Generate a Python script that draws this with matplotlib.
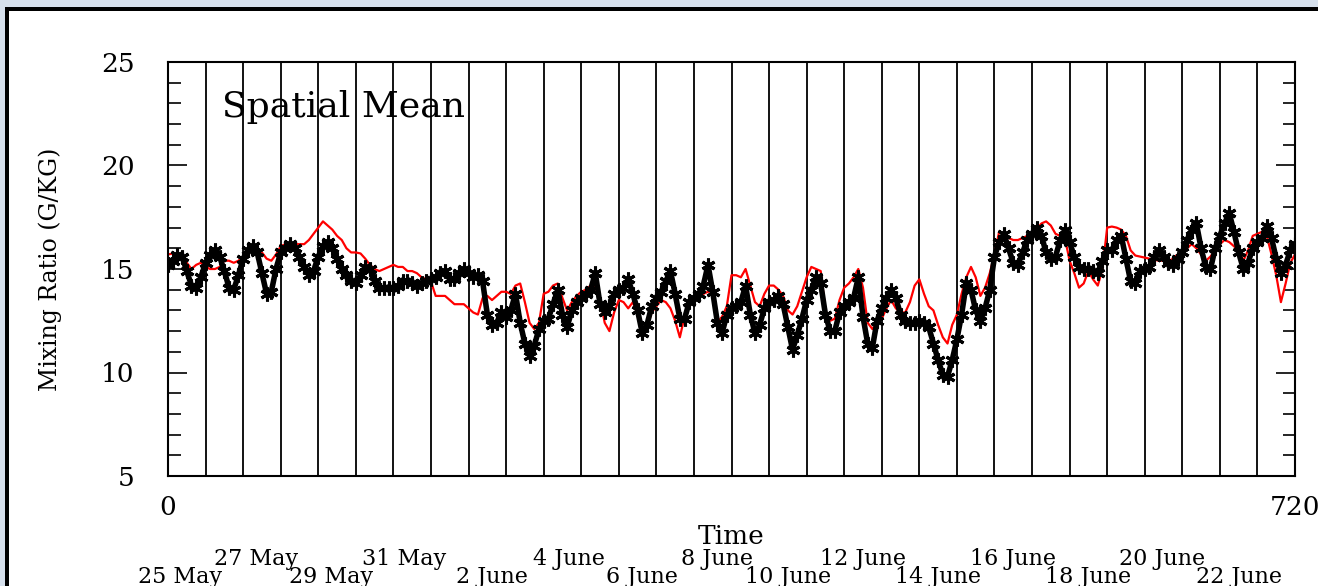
import numpy as np
import matplotlib
matplotlib.use("Agg")
from matplotlib import pyplot as plt
from matplotlib import transforms
from matplotlib.patches import Rectangle

# hours since 00Z 25 May, sampled every 3 h
hours = list(range(0, 721, 3))

# spatial mean mixing ratio, observed (black asterisks), g/kg
observed = [
    15.2, 15.4, 15.7, 15.6, 14.9, 14.2, 14.1, 14.6,
    15.3, 15.7, 15.9, 15.6, 14.9, 14.1, 14.0, 14.7,
    15.5, 15.9, 16.1, 15.8, 14.8, 13.8, 13.9, 15.0,
    15.8, 16.0, 16.2, 16.0, 15.6, 15.1, 14.7, 14.9,
    15.6, 16.1, 16.3, 16.0, 15.5, 15.0, 14.7, 14.4,
    14.3, 14.7, 15.1, 15.0, 14.4, 14.1, 14.1, 14.1,
    14.1, 14.2, 14.4, 14.4, 14.3, 14.2, 14.3, 14.4,
    14.5, 14.6, 14.8, 14.9, 14.5, 14.5, 14.8, 15.0,
    14.8, 14.6, 14.7, 14.4, 12.8, 12.3, 12.4, 12.9,
    12.7, 13.0, 13.8, 12.4, 11.4, 10.8, 11.3, 12.1,
    12.5, 12.6, 13.3, 14.0, 12.8, 12.2, 13.0, 13.4,
    13.6, 13.8, 14.0, 14.8, 13.3, 12.9, 13.2, 13.8,
    14.0, 14.1, 14.5, 13.8, 13.0, 11.9, 12.3, 13.2,
    13.6, 13.9, 14.4, 14.9, 13.8, 12.6, 12.6, 13.4,
    13.6, 13.8, 14.2, 15.2, 13.9, 12.4, 11.9, 12.8,
    13.1, 13.2, 13.4, 14.2, 12.8, 11.9, 12.3, 13.1,
    13.4, 13.5, 13.7, 13.3, 12.2, 11.1, 11.8, 12.6,
    13.5, 14.0, 14.6, 14.3, 12.8, 12.0, 12.0, 12.9,
    13.2, 13.4, 13.6, 14.6, 12.7, 11.4, 11.2, 12.5,
    13.1, 13.6, 14.0, 13.6, 12.8, 12.5, 12.4, 12.4,
    12.5, 12.4, 12.2, 11.4, 10.6, 9.9, 9.8, 10.6,
    11.6, 12.8, 14.3, 14.0, 13.0, 12.5, 13.1, 14.0,
    15.6, 16.3, 16.7, 16.0, 15.3, 15.2, 15.8, 16.4,
    16.7, 17.0, 16.6, 15.8, 15.5, 15.6, 16.4, 16.9,
    16.3, 15.6, 15.1, 15.0, 15.0, 14.9, 14.8, 15.4,
    15.9, 15.9, 16.4, 16.6, 15.5, 14.4, 14.3, 14.9,
    15.0, 15.1, 15.6, 15.9, 15.6, 15.3, 15.2, 15.5,
    15.8, 16.4, 16.9, 17.2, 16.0, 15.1, 15.0, 16.0,
    16.6, 17.2, 17.7, 16.8, 15.8, 15.0, 15.3, 16.0,
    16.3, 16.5, 17.1, 16.5, 15.5, 14.8, 15.2, 15.9,
    16.2,
]

# model spatial mean (red line), g/kg
model = [
    15.7, 15.75, 15.75, 15.6, 15.3, 15.0, 15.2, 15.3,
    15.1, 15.0, 15.0, 15.1, 15.4, 15.4, 15.3, 15.4,
    15.6, 15.9, 16.1, 16.0, 15.8, 15.5, 15.4, 15.7,
    16.1, 16.2, 16.2, 16.2, 16.2, 16.2, 16.4, 16.7,
    17.0, 17.3, 17.1, 16.9, 16.6, 16.4, 16.0, 15.8,
    15.8, 15.75, 15.5, 15.2, 15.0, 14.9, 15.0, 15.1,
    15.2, 15.1, 15.1, 14.9, 14.9, 14.8, 14.6, 14.5,
    14.4, 13.7, 13.7, 13.7, 13.5, 13.3, 13.3, 13.3,
    13.1, 12.9, 12.8, 13.6, 13.7, 13.5, 13.7, 13.9,
    13.9, 13.8, 14.2, 14.3, 13.4, 12.4, 12.1, 12.4,
    13.8, 13.9, 14.2, 14.3, 13.6, 13.0, 13.4, 13.7,
    13.9, 14.0, 14.2, 14.1, 13.6, 12.4, 12.0, 12.9,
    13.5, 13.4, 13.1, 13.4, 12.8, 11.8, 12.2, 12.9,
    13.2, 13.5, 13.4, 13.1, 12.5, 11.7, 12.7, 13.2,
    13.5, 13.6, 13.8, 13.9, 13.9, 12.4, 12.7, 13.2,
    14.7, 14.7, 14.6, 15.0, 14.2, 13.4, 13.2, 13.8,
    14.2, 14.2, 14.0, 13.7, 13.0, 12.8, 13.2, 13.9,
    14.6, 15.1, 15.0, 14.9, 13.0, 12.5, 12.6, 13.5,
    14.1, 14.3, 14.6, 15.0, 14.1, 12.4, 12.1, 12.4,
    12.6, 13.1, 13.5, 13.1, 12.9, 12.9, 13.4, 14.2,
    14.5, 13.8, 13.2, 13.0, 12.3, 11.7, 11.4, 12.3,
    12.8, 13.8, 14.6, 15.1, 14.6, 13.7, 14.1, 14.8,
    15.7, 16.8, 16.7, 16.5, 16.4, 16.4, 16.5, 16.6,
    16.7, 16.9, 17.2, 17.3, 17.1, 16.7, 16.6, 16.5,
    15.4, 14.8, 14.1, 14.3, 14.9, 14.5, 14.2, 15.0,
    17.0, 17.05, 17.0, 16.9, 16.6, 15.9, 15.65, 15.6,
    15.55, 15.5, 15.45, 15.4, 15.4, 15.35, 15.5, 15.7,
    15.8, 16.0, 16.2, 16.0, 15.7, 15.4, 15.6, 15.9,
    16.2, 16.4, 16.3, 16.1, 15.9, 15.4, 15.9, 16.6,
    16.7, 16.8, 16.6, 15.7, 14.7, 13.4, 14.3, 15.3,
    15.7,
]

day_lines = list(range(24, 720, 24))
top_dates = ["27 May", "31 May", "4 June", "8 June", "12 June", "16 June", "20 June"]
top_pos = [56, 151, 256, 351, 444, 540, 635]
bottom_dates = ["25 May", "29 May", "2 June", "6 June", "10 June", "14 June", "18 June", "22 June"]
bottom_pos = [8, 104, 207, 303, 396, 492, 588, 684]

plt.rcParams['font.family'] = ['DejaVu Serif']

fig = plt.figure(figsize=(13.18, 5.86), dpi=100)
fig.patch.set_facecolor("white")

# window frame around the picture
fig.patches.append(Rectangle((0, 1 - 7 / 586), 1, 7 / 586, transform=fig.transFigure,
                             facecolor="#d6e0ec", edgecolor="none", zorder=0))
fig.patches.append(Rectangle((0, 0), 5 / 1318, 1, transform=fig.transFigure,
                             facecolor="#d6e0ec", edgecolor="none", zorder=0))
fig.patches.append(Rectangle((5 / 1318, 1 - 11 / 586), 1, 4 / 586, transform=fig.transFigure,
                             facecolor="black", edgecolor="none", zorder=1))
fig.patches.append(Rectangle((5 / 1318, 0), 4 / 1318, 1 - 7 / 586, transform=fig.transFigure,
                             facecolor="black", edgecolor="none", zorder=1))

ax = fig.add_axes([168 / 1318, 1 - 476 / 586, 1127 / 1318, 414 / 586])

for h in day_lines:
    ax.axvline(h, color="black", lw=1.3, zorder=1)

ax.plot(hours, model, color="red", lw=1.6, zorder=2)
ax.plot(hours, observed, color="black", lw=4, solid_capstyle="round", zorder=3)
ax.plot(hours, observed, color="black", lw=0, marker=(6, 2, 0), markersize=10,
        markeredgewidth=2.2, zorder=3)

ax.set_xlim(0, 720)
ax.set_ylim(5, 25)
ax.set_yticks([5, 10, 15, 20, 25])
ax.set_yticks(range(5, 26), minor=True)
ax.tick_params(axis="y", which="major", direction="in", length=14, width=1.2,
               left=True, right=True, labelsize=19, pad=24)
ax.tick_params(axis="y", which="minor", direction="in", length=9, width=1.2,
               left=True, right=True)
ax.set_xticks([0, 720])
ax.set_xticklabels(["0", "720"])
ax.tick_params(axis="x", length=0, labelsize=19, pad=14)
for s in ax.spines.values():
    s.set_linewidth(1.5)

ax.set_ylabel("Mixing Ratio (G/KG)", fontsize=17, labelpad=28)
ax.text(0.048, 0.891, "Spatial Mean", transform=ax.transAxes, fontsize=26,
        ha="left", va="center")

trans = transforms.blended_transform_factory(ax.transData, fig.transFigure)
ax.text(360, 1 - 544 / 586, "Time", transform=trans, fontsize=19,
        ha="center", va="baseline", clip_on=False)
for lab, p in zip(top_dates, top_pos):
    ax.text(p, 1 - 565 / 586, lab, transform=trans, fontsize=16,
            ha="center", va="baseline", clip_on=False)
for lab, p in zip(bottom_dates, bottom_pos):
    ax.text(p, 1 - 583 / 586, lab, transform=trans, fontsize=16,
            ha="center", va="baseline", clip_on=False)

fig.savefig("out.png", dpi=100)
